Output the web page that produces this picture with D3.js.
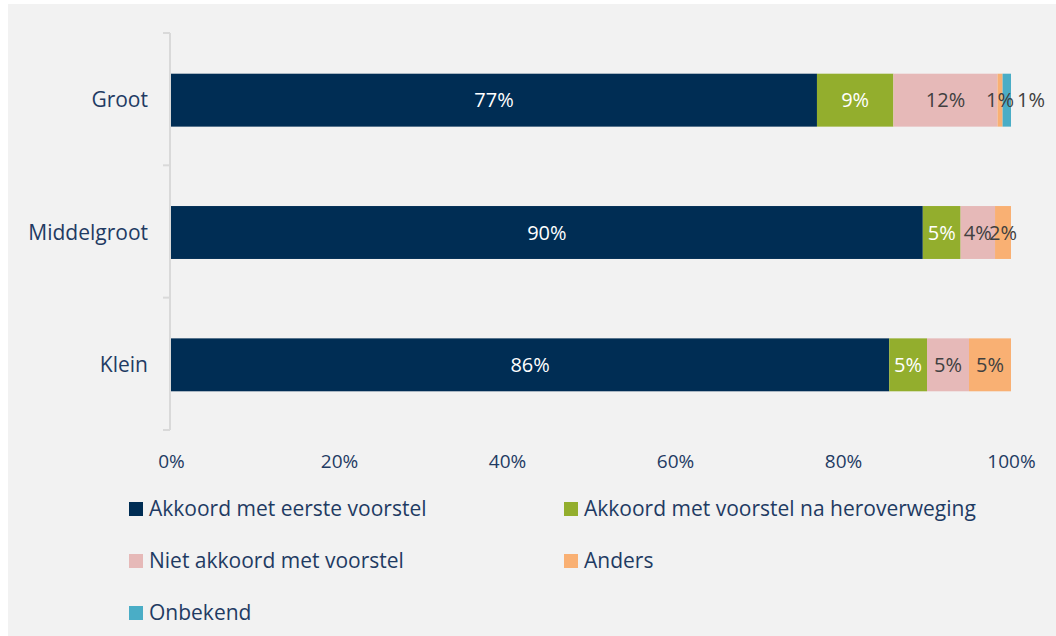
<!DOCTYPE html>
<html>
<head>
<meta charset="utf-8">
<script src="https://cdn.jsdelivr.net/npm/d3@7"></script>
<style>
  body { margin: 0; background: #fff; }
  svg { display: block; }
  text { font-family: "Open Sans", sans-serif; }
</style>
</head>
<body>
<svg id="chart" width="1056" height="636"></svg>
<script>
// data
var categories = ["Groot", "Middelgroot", "Klein"]
var series = ["Akkoord met eerste voorstel", "Akkoord met voorstel na heroverweging",
              "Niet akkoord met voorstel", "Anders", "Onbekend"]
var groot = [76.9, 9.1, 12.4, 0.6, 1.0]
var middelgroot = [89.5, 4.5, 4.1, 1.9, 0]
var klein = [85.5, 4.5, 5.0, 5.0, 0]
var xTicks = [0, 20, 40, 60, 80, 100]

var colors = ["#002d54", "#93ae2d", "#e6b9b8", "#f9b073", "#4aadc6"]
var labelColors = ["#ffffff", "#ffffff", "#404040", "#404040", "#404040"]
var textColor = "#1f3b63"

var values = [groot, middelgroot, klein]
var rows = categories.map(function(c, i){
    var obj = {cat: c}
    series.forEach(function(s, j){ obj[s] = values[i][j] })
    return obj
})
var stacked = d3.stack().keys(series)(rows)

var svg = d3.select("#chart")
svg.append("rect").attr("x", 8).attr("y", 4).attr("width", 1048).attr("height", 632)
    .style("fill", "#f2f2f2")

var x = d3.scaleLinear().domain([0, 100]).range([171, 1011])
var y = d3.scaleBand().domain(categories).range([33, 430]).paddingInner(0.6).paddingOuter(0.3)

// category axis
var yAxis = d3.axisLeft(y).tickSize(0).tickPadding(22)
var gy = svg.append("g").attr("transform", "translate(170,1)").call(yAxis)
gy.select(".domain").remove()
gy.selectAll("text").style("font-size", "21px").style("fill", textColor)
    .attr("dy", "0.34em")

svg.append("line").attr("x1", 170).attr("x2", 170).attr("y1", 33).attr("y2", 430)
    .style("stroke", "#d9d9d9").style("stroke-width", 2)
var step = y.step()
var sep = [33].concat(categories.map(function(c){ return y(c) + y.bandwidth() + (step - y.bandwidth()) / 2 }))
svg.selectAll(".sep").data(sep).enter().append("line")
    .attr("x1", 163).attr("x2", 170)
    .attr("y1", function(d){ return d }).attr("y2", function(d){ return d })
    .style("stroke", "#d9d9d9").style("stroke-width", 2)

// value axis
var xAxis = d3.axisBottom(x).tickValues(xTicks).tickSize(0).tickPadding(24)
    .tickFormat(function(d){ return d + "%" })
var gx = svg.append("g").attr("transform", "translate(0,431)").call(xAxis)
gx.select(".domain").remove()
gx.selectAll("text").style("font-size", "19px").style("fill", textColor)

// bars
var layer = svg.selectAll(".layer").data(stacked).enter().append("g")
    .style("fill", function(d, i){ return colors[i] })
layer.selectAll("rect").data(function(d){ return d }).enter().append("rect")
    .attr("x", function(d){ return x(d[0]) })
    .attr("width", function(d){ return x(d[1]) - x(d[0]) })
    .attr("y", function(d){ return y(d.data.cat) + 1 })
    .attr("height", y.bandwidth())

// labels
stacked.forEach(function(s, i){
    s.forEach(function(d){
        var v = d[1] - d[0]
        if (v <= 0) return
        var cx = (x(d[0]) + x(d[1])) / 2
        if (i === 4) cx = x(d[1]) + 20
        svg.append("text")
            .attr("x", cx)
            .attr("y", y(d.data.cat) + 1 + y.bandwidth() / 2)
            .attr("dy", "0.35em")
            .attr("text-anchor", "middle")
            .style("font-size", "20px")
            .style("fill", labelColors[i])
            .text(Math.round(v) + "%")
    })
})

// legend
var legendPos = [[129, 509], [564, 509], [129, 561], [564, 561], [129, 613]]
series.forEach(function(s, i){
    var p = legendPos[i]
    svg.append("rect").attr("x", p[0]).attr("y", p[1] - 7).attr("width", 14).attr("height", 14)
        .style("fill", colors[i])
    svg.append("text").attr("x", p[0] + 20).attr("y", p[1]).attr("dy", "0.35em")
        .style("font-size", "21px").style("fill", textColor).text(s)
})
</script>
</body>
</html>
